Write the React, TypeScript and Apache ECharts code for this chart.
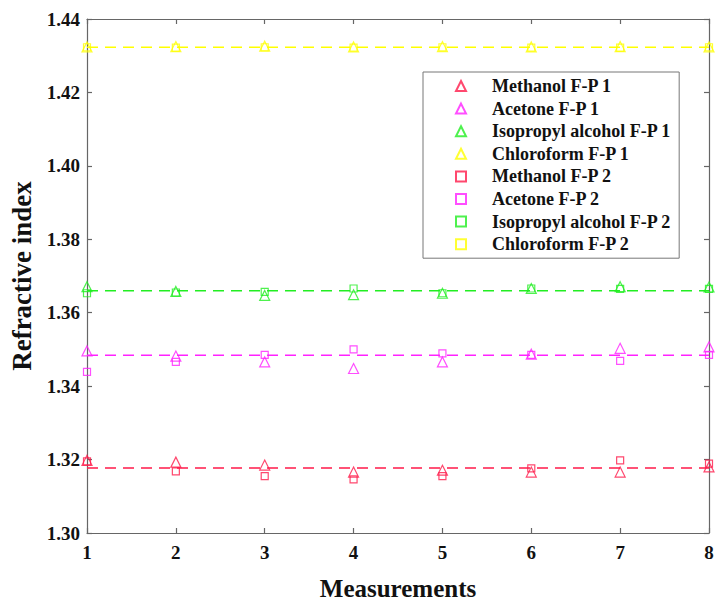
import React, { useEffect, useRef } from "react";
import * as echarts from "echarts";

const measurements = [1, 2, 3, 4, 5, 6, 7, 8];
const methanolFP1 = [1.3198, 1.3193, 1.3185, 1.3166, 1.3171, 1.3166, 1.3166, 1.318];
const methanolFP2 = [1.3195, 1.3168, 1.3155, 1.3146, 1.3155, 1.3176, 1.3198, 1.3189];
const acetoneFP1 = [1.3496, 1.3482, 1.3466, 1.3448, 1.3466, 1.3487, 1.3503, 1.3507];
const acetoneFP2 = [1.3439, 1.3466, 1.3485, 1.35, 1.3489, 1.3485, 1.3469, 1.3485];
const isopropylFP1 = [1.3671, 1.3658, 1.3647, 1.3649, 1.3653, 1.3666, 1.3671, 1.367];
const isopropylFP2 = [1.3653, 1.3655, 1.3657, 1.3666, 1.3653, 1.3666, 1.3665, 1.3665];
const chloroformFP1 = [1.4324, 1.4325, 1.4326, 1.4324, 1.4325, 1.4324, 1.4325, 1.4324];
const chloroformFP2 = [1.4323, 1.4322, 1.4323, 1.4322, 1.4323, 1.4322, 1.4322, 1.4323];
const meanValues = [1.3177, 1.3484, 1.366, 1.4323];
const liquids = ["Methanol", "Acetone", "Isopropyl alcohol", "Chloroform"];
const colors = ["#ff1a4a", "#ff22ff", "#22ee22", "#ffff00"];

const FONT = "'Liberation Serif', 'Times New Roman', serif";

export default function App() {
  const ref = useRef<HTMLDivElement>(null);
  useEffect(() => {
    if (!ref.current) return;
    const chart = echarts.init(ref.current, null, { renderer: "svg" });
    const fp1 = [methanolFP1, acetoneFP1, isopropylFP1, chloroformFP1];
    const fp2 = [methanolFP2, acetoneFP2, isopropylFP2, chloroformFP2];
    const lineSeries = meanValues.map((v, i) => ({
      name: liquids[i] + " mean",
      type: "line",
      data: [
        [measurements[0], v],
        [measurements[measurements.length - 1], v],
      ],
      symbol: "none",
      silent: true,
      lineStyle: { color: colors[i], width: 1.5, type: [11, 7] },
      z: 1,
    }));
    const mk = (arr: number[][], suffix: string, symbol: string, size: number) =>
      arr.map((vals, i) => ({
        name: liquids[i] + " " + suffix,
        type: "scatter",
        symbol,
        symbolSize: size,
        data: vals.map((v, j) => [measurements[j], v]),
        itemStyle: { color: "transparent", borderColor: colors[i], borderWidth: 1.2 },
        z: 3,
      }));
    const tri = mk(fp1, "F-P 1", "triangle", 10);
    const sq = mk(fp2, "F-P 2", "rect", 7);
    const legendNames = [...tri.map((s) => s.name), ...sq.map((s) => s.name)];
    const axisLineStyle = { color: "#666", width: 1.2 };
    chart.setOption({
      animation: false,
      backgroundColor: "#fff",
      grid: { left: 87, right: 6, top: 19, bottom: 70, containLabel: false, outerBoundsMode: "none" },
      legend: {
        data: legendNames,
        orient: "vertical",
        left: 423,
        top: 72,
        padding: [5, 8, 5, 32],
        itemWidth: 10,
        itemHeight: 10,
        itemGap: 4.6,
        borderColor: "#777",
        borderWidth: 1,
        backgroundColor: "#fff",
        textStyle: {
          fontFamily: FONT,
          fontWeight: "bold",
          fontSize: 18,
          lineHeight: 18,
          color: "#111",
          padding: [0, 0, 0, 21],
        },
      },
      xAxis: [
        {
          type: "value",
          min: 1,
          max: 8,
          interval: 1,
          name: "Measurements",
          nameLocation: "middle",
          nameGap: 43,
          nameTextStyle: { fontFamily: FONT, fontWeight: "bold", fontSize: 25, color: "#111" },
          axisLine: { show: true, lineStyle: axisLineStyle },
          axisTick: { show: true, inside: true, length: 5, lineStyle: axisLineStyle },
          axisLabel: { fontFamily: FONT, fontWeight: "bold", fontSize: 19, color: "#111", margin: 10 },
          splitLine: { show: false },
        },
        {
          type: "value",
          position: "top",
          min: 1,
          max: 8,
          interval: 1,
          axisLine: { show: true, lineStyle: axisLineStyle },
          axisTick: { show: true, inside: true, length: 5, lineStyle: axisLineStyle },
          axisLabel: { show: false },
          splitLine: { show: false },
        },
      ],
      yAxis: [
        {
          type: "value",
          min: 1.3,
          max: 1.44,
          interval: 0.02,
          name: "Refractive index",
          nameLocation: "middle",
          nameGap: 46,
          nameTextStyle: { fontFamily: FONT, fontWeight: "bold", fontSize: 27, color: "#111" },
          axisLine: { show: true, lineStyle: axisLineStyle },
          axisTick: { show: true, inside: true, length: 5, lineStyle: axisLineStyle },
          axisLabel: {
            fontFamily: FONT,
            fontWeight: "bold",
            fontSize: 19,
            color: "#111",
            margin: 7,
            formatter: (v: number) => v.toFixed(2),
          },
          splitLine: { show: false },
        },
        {
          type: "value",
          position: "right",
          min: 1.3,
          max: 1.44,
          interval: 0.02,
          axisLine: { show: true, lineStyle: axisLineStyle },
          axisTick: { show: true, inside: true, length: 5, lineStyle: axisLineStyle },
          axisLabel: { show: false },
          splitLine: { show: false },
        },
      ],
      series: [...lineSeries, ...tri, ...sq],
    });
    return () => chart.dispose();
  }, []);
  return <div ref={ref} style={{ width: 715, height: 603, position: "absolute", left: 0, top: 0 }} />;
}
